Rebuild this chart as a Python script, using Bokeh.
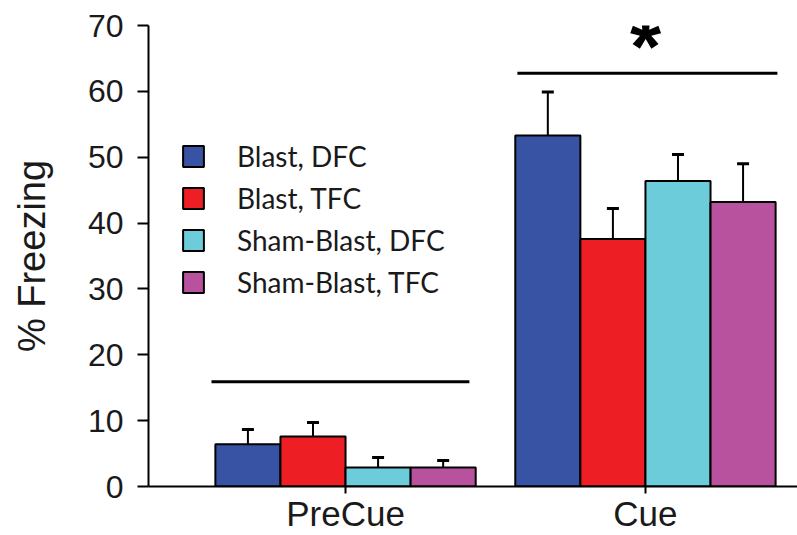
from bokeh.plotting import figure
from bokeh.models import (Range1d, FixedTicker, Legend, LegendItem, Whisker,
                          TeeHead, ColumnDataSource)
from bokeh.core.properties import value
from bokeh.embed import file_html
from bokeh.resources import INLINE

phases = ["PreCue", "Cue"]
series = ["Blast, DFC", "Blast, TFC", "Sham-Blast, DFC", "Sham-Blast, TFC"]
colors = ["#3953A4", "#ED1F24", "#6CCCD9", "#B8529E"]
means = {
    "Blast, DFC": [6.4, 53.3],
    "Blast, TFC": [7.6, 37.6],
    "Sham-Blast, DFC": [2.9, 46.4],
    "Sham-Blast, TFC": [2.9, 43.2],
}
sems = {
    "Blast, DFC": [2.25, 6.6],
    "Blast, TFC": [2.1, 4.6],
    "Sham-Blast, DFC": [1.5, 4.0],
    "Sham-Blast, TFC": [1.05, 5.8],
}
y_ticks = [0, 10, 20, 30, 40, 50, 60, 70]
sig_y = [15.9, 62.75]
sig_x0 = [-0.447, 0.573]
sig_x1 = [0.413, 1.44]
star_text = ["", "*"]

bar_w = 0.217

p = figure(width=797, height=535, output_backend="svg", toolbar_location=None,
           x_range=Range1d(-0.657, 1.507), y_range=Range1d(0, 70),
           min_border_left=148, min_border_right=0, min_border_top=25,
           min_border_bottom=49)
p.outline_line_color = None
p.grid.visible = False
p.background_fill_color = "white"

items = []
for k, s in enumerate(series):
    xs = [i + (k - 1.5) * bar_w for i in range(len(phases))]
    src = ColumnDataSource(dict(x=xs, top=means[s],
                                upper=[m + e for m, e in zip(means[s], sems[s])]))
    r = p.vbar(x="x", top="top", bottom=0, width=bar_w, source=src,
               fill_color=colors[k], line_color="black", line_width=2)
    w = Whisker(base="x", lower="top", upper="upper", source=src,
                dimension="height", line_color="black", line_width=2,
                lower_head=None,
                upper_head=TeeHead(size=12, line_width=3, line_color="black"))
    p.add_layout(w)
    items.append(LegendItem(label=s, renderers=[r]))

p.segment(x0=sig_x0, y0=sig_y, x1=sig_x1, y1=sig_y, line_color="black",
          line_width=3)
p.text(x=[0, 1], y=[66.8, 66.8], text=star_text, text_align="center",
       text_baseline="alphabetic", text_font=value("Liberation Sans"),
       text_font_style="bold", text_font_size="80px", text_color="black")

legend = Legend(items=items, location=(32, 187), padding=0, margin=0,
                border_line_color=None, background_fill_alpha=0,
                glyph_width=26, glyph_height=26, label_standoff=31,
                spacing=8, label_text_font="Lato",
                label_text_font_size="28px", label_text_color="#1a1a1a")
p.add_layout(legend, "center")

yax = p.yaxis[0]
yax.ticker = FixedTicker(ticks=y_ticks)
yax.axis_label = "% Freezing"
yax.axis_label_text_font = "Liberation Sans"
yax.axis_label_text_font_style = "normal"
yax.axis_label_text_font_size = "38px"
yax.axis_label_text_color = "#1a1a1a"
yax.axis_label_standoff = 32
yax.major_label_text_font = "Liberation Sans"
yax.major_label_text_font_size = "32px"
yax.major_label_text_color = "#1a1a1a"
yax.major_label_standoff = 14
yax.major_tick_out = 11
yax.major_tick_in = 0
yax.minor_tick_out = 0
yax.minor_tick_in = 0
yax.axis_line_width = 2
yax.major_tick_line_width = 2

xax = p.xaxis[0]
xax.ticker = FixedTicker(ticks=list(range(len(phases))))
xax.major_label_overrides = {i: ph for i, ph in enumerate(phases)}
xax.major_label_text_font = "Liberation Sans"
xax.major_label_text_font_size = "35px"
xax.major_label_text_color = "#1a1a1a"
xax.major_label_text_line_height = 1.0
xax.major_label_standoff = 0
xax.major_tick_out = 7
xax.major_tick_in = 0
xax.minor_tick_out = 0
xax.minor_tick_in = 0
xax.axis_line_width = 2
xax.major_tick_line_width = 2

open("out.html", "w").write(file_html(p, INLINE))
